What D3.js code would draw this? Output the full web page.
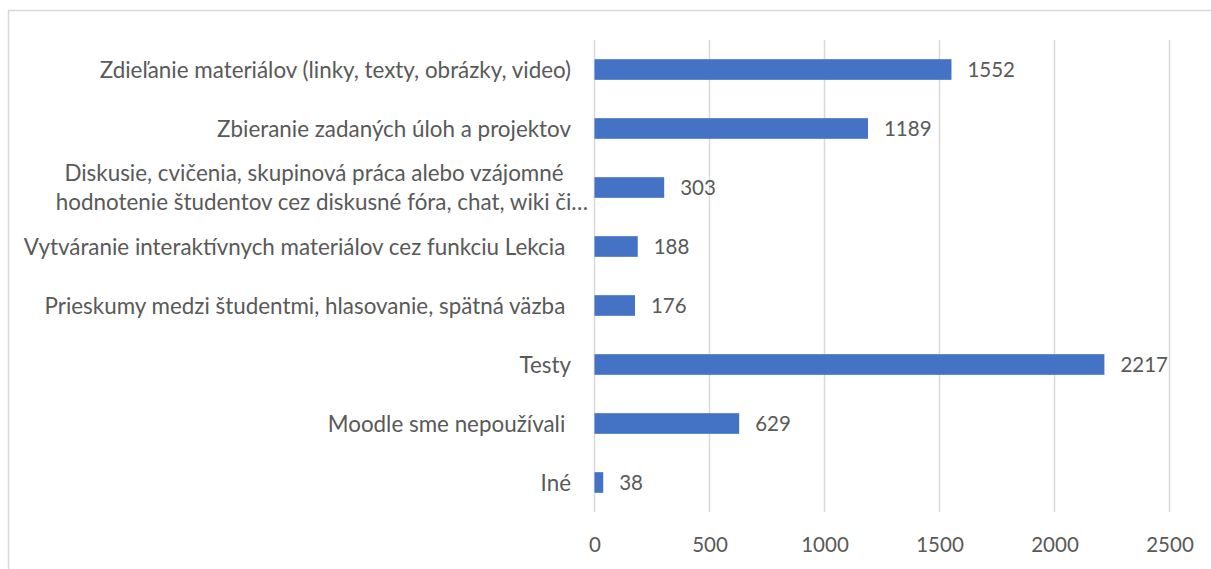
<!DOCTYPE html>
<html>
<head>
<meta charset="utf-8">
<script src="https://cdn.jsdelivr.net/npm/d3@7"></script>
<style>
  body { margin: 0; background: #fff; }
  text { font-family: Lato, "Open Sans", sans-serif; fill: #595959; white-space: pre; }
</style>
</head>
<body>
<script>
// Category labels, top to bottom (wrapped label has two lines)
var categories = [
  ["Zdieľanie materiálov (linky, texty, obrázky, video)"],
  ["Zbieranie zadaných úloh a projektov"],
  ["Diskusie, cvičenia, skupinová práca alebo vzájomné", "hodnotenie študentov cez diskusné fóra, chat, wiki či…"],
  ["Vytváranie interaktívnych materiálov cez funkciu Lekcia "],
  ["Prieskumy medzi študentmi, hlasovanie, spätná väzba "],
  ["Testy"],
  ["Moodle sme nepoužívali "],
  ["Iné"]
];
var values = [1552, 1189, 303, 188, 176, 2217, 629, 38];
var xTicks = [0, 500, 1000, 1500, 2000, 2500];

var width = 1211, height = 569;
var plot = { left: 594.5, right: 1169.5, top: 40, bottom: 512 };
var labelSize = "22.4px", numSize = "20.5px";

var svg = d3.select("body")
  .append("svg")
  .attr("width", width)
  .attr("height", height);

// chart frame (runs off the right and bottom edge)
svg.append("rect")
  .attr("x", 8.5)
  .attr("y", 10.5)
  .attr("width", 1400)
  .attr("height", 800)
  .attr("fill", "none")
  .attr("stroke", "#d9d9d9")
  .attr("stroke-width", 1.5);

var x = d3.scaleLinear()
  .domain([0, 2500])
  .range([plot.left, plot.right]);

var y = d3.scaleBand()
  .domain(d3.range(categories.length))
  .range([plot.top, plot.bottom])
  .padding(0);

var barH = y.bandwidth() * 0.35;

// gridlines
svg.selectAll(".grid")
  .data(xTicks)
  .enter()
  .append("line")
  .attr("class", "grid")
  .attr("x1", function (d) { return x(d); })
  .attr("x2", function (d) { return x(d); })
  .attr("y1", plot.top)
  .attr("y2", plot.bottom)
  .attr("stroke", "#d9d9d9")
  .attr("stroke-width", 1.5);

// x axis labels
var xAxis = d3.axisBottom(x)
  .tickValues(xTicks)
  .tickSize(0)
  .tickPadding(0)
  .tickFormat(d3.format("d"));

var gx = svg.append("g")
  .attr("transform", "translate(0," + (plot.bottom + 40) + ")")
  .call(xAxis);
gx.select(".domain").remove();
gx.selectAll("text")
  .attr("dy", null)
  .attr("y", 0)
  .style("font-size", numSize)
  .style("font-family", "Lato, 'Open Sans', sans-serif")
  .attr("fill", "#595959");

// bars
svg.selectAll(".bar")
  .data(values)
  .enter()
  .append("rect")
  .attr("class", "bar")
  .attr("x", x(0))
  .attr("y", function (d, i) { return y(i) + y.bandwidth() / 2 - barH / 2; })
  .attr("width", function (d) { return x(d) - x(0); })
  .attr("height", barH)
  .attr("fill", "#4472c4");

// value labels
svg.selectAll(".val")
  .data(values)
  .enter()
  .append("text")
  .attr("class", "val")
  .attr("x", function (d) { return x(d) + 16; })
  .attr("y", function (d, i) { return y(i) + y.bandwidth() / 2; })
  .attr("dy", "0.36em")
  .style("font-size", numSize)
  .text(function (d) { return d; });

// category labels
categories.forEach(function (lines, i) {
  var cy = y(i) + y.bandwidth() / 2;
  if (lines.length === 1) {
    svg.append("text")
      .attr("x", 571)
      .attr("y", cy)
      .attr("dy", "0.36em")
      .attr("text-anchor", "end")
      .style("font-size", labelSize)
      .text(lines[0]);
  } else {
    lines.forEach(function (line, j) {
      svg.append("text")
        .attr("x", j === 0 ? 314 : 322)
        .attr("y", cy + (j - 0.5) * 29)
        .attr("dy", "0.36em")
        .attr("text-anchor", "middle")
        .style("font-size", labelSize)
        .text(line);
    });
  }
});
</script>
</body>
</html>
